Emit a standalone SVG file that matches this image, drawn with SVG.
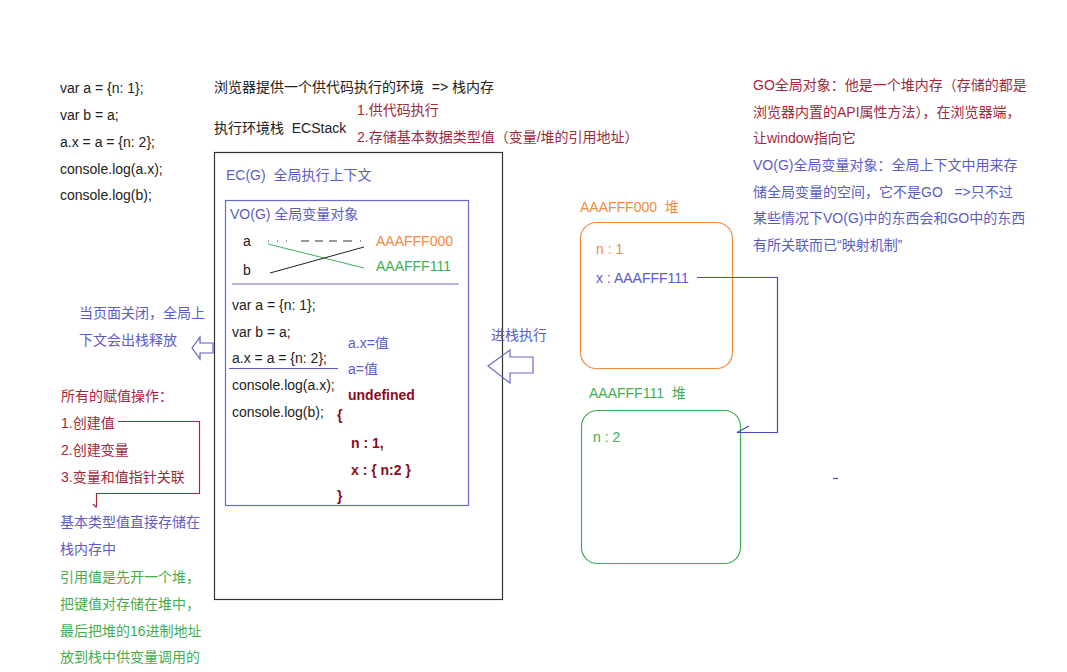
<svg xmlns="http://www.w3.org/2000/svg" width="1067" height="672" viewBox="0 0 1067 672">
<style>
text{font-family:"Liberation Sans","Noto Sans CJK SC",sans-serif;font-size:14px;white-space:pre}
.k{fill:#222}
.b{fill:#5c5cc8}
.r{fill:#a3283c}
.br{fill:#8a0b22;font-weight:bold}
.o{fill:#f28a3c}
.g{fill:#3fae52}
.bs{fill:none;stroke:#6a6ad0;stroke-width:1.2}
</style>
<rect width="1067" height="672" fill="#fff"/>
<g id="code-left" class="k">
<text x="60" y="93">var a = {n: 1};</text>
<text x="60" y="120">var b = a;</text>
<text x="60" y="147">a.x = a = {n: 2};</text>
<text x="60" y="174">console.log(a.x);</text>
<text x="60" y="200">console.log(b);</text>
</g>
<g id="title">
<text x="214" y="92" class="k">浏览器提供一个供代码执行的环境  =&gt; 栈内存</text>
<text x="214" y="133" class="k">执行环境栈  ECStack</text>
<text x="357" y="115" class="r">1.供代码执行</text>
<text x="357" y="142" class="r">2.存储基本数据类型值（变量/堆的引用地址）</text>
</g>
<g id="go-note">
<text x="753" y="90" class="r">GO全局对象：他是一个堆内存（存储的都是</text>
<text x="753" y="117" class="r">浏览器内置的API属性方法），在浏览器端，</text>
<text x="753" y="143" class="r">让window指向它</text>
<text x="753" y="170" class="b">VO(G)全局变量对象：全局上下文中用来存</text>
<text x="753" y="197" class="b">储全局变量的空间，它不是GO   =&gt;只不过</text>
<text x="753" y="223" class="b">某些情况下VO(G)中的东西会和GO中的东西</text>
<text x="753" y="250" class="b">有所关联而已“映射机制”</text>
</g>
<g id="ecstack">
<rect x="214.5" y="152.5" width="288" height="447" fill="none" stroke="#333" stroke-width="1.2"/>
<text x="226" y="180" class="b">EC(G)  全局执行上下文</text>
</g>
<g id="vo">
<rect x="225.5" y="200.5" width="243" height="305" class="bs"/>
<text x="230" y="219" class="b">VO(G) 全局变量对象</text>
<text x="243" y="246" class="k">a</text>
<text x="243" y="275" class="k">b</text>
<line x1="268" y1="241" x2="365" y2="241" stroke="#333" stroke-dasharray="1,8,1,8,1,14,8,6,8,6,8,6,8,0"/>
<line x1="268" y1="244" x2="364" y2="268" stroke="#3fae52"/>
<line x1="270" y1="273" x2="364" y2="247" stroke="#222"/>
<text x="376" y="246" class="o">AAAFFF000</text>
<text x="376" y="271" class="g">AAAFFF111</text>
<line x1="232" y1="284" x2="459" y2="284" stroke="#6a6ad0" stroke-width="1.2"/>
<text x="232" y="310" class="k">var a = {n: 1};</text>
<text x="232" y="337" class="k">var b = a;</text>
<text x="232" y="363" class="k">a.x = a = {n: 2};</text>
<line x1="229" y1="368.5" x2="338" y2="368.5" stroke="#5c5cc8" stroke-width="1.2"/>
<text x="232" y="390" class="k">console.log(a.x);</text>
<text x="232" y="417" class="k">console.log(b);</text>
<text x="348" y="348" class="b">a.x=值</text>
<text x="348" y="374" class="b">a=值</text>
<text x="348" y="400" class="br">undefined</text>
<text x="337" y="420" class="br">{</text>
<text x="351" y="448" class="br">n : 1,</text>
<text x="351" y="475" class="br">x : { n:2 }</text>
<text x="337" y="501" class="br">}</text>
</g>
<g id="close-note">
<text x="79" y="318" class="b">当页面关闭，全局上</text>
<text x="79" y="345" class="b">下文会出栈释放</text>
</g>
<g id="assign-note">
<text x="61" y="401" class="r">所有的赋值操作：</text>
<text x="61" y="428" class="r">1.创建值</text>
<text x="61" y="455" class="r">2.创建变量</text>
<text x="61" y="482" class="r">3.变量和值指针关联</text>
</g>
<g id="store-note">
<text x="60" y="527" class="b">基本类型值直接存储在</text>
<text x="60" y="554" class="b">栈内存中</text>
<text x="60" y="582" class="g">引用值是先开一个堆，</text>
<text x="60" y="609" class="g">把键值对存储在堆中，</text>
<text x="60" y="636" class="g">最后把堆的16进制地址</text>
<text x="60" y="662" class="g">放到栈中供变量调用的</text>
</g>
<g id="push-label">
<text x="491" y="340" class="b">进栈执行</text>
</g>
<g id="heap-000">
<text x="580" y="212" class="o">AAAFFF000  堆</text>
<rect x="580.5" y="222.5" width="152" height="146" rx="16" fill="none" stroke="#f28a3c" stroke-width="1.2"/>
<text x="596" y="254" class="o">n : 1</text>
<text x="596" y="283" class="b">x : AAAFFF111</text>
</g>
<g id="heap-111">
<text x="589" y="398" class="g">AAAFFF111  堆</text>
<rect x="581.5" y="410.5" width="159" height="153" rx="16" fill="none" stroke="#3fae52" stroke-width="1.2"/>
<text x="593" y="442" class="g">n : 2</text>
</g>
<g id="connectors" fill="none" stroke-width="1.2">
<path d="M192,348 L200,337 L200,343 L213,343 L213,353 L200,353 L200,359 Z" stroke="#5c5cc8"/>
<path d="M488,366 L510,350 L510,357 L533,357 L533,373 L510,373 L510,383 Z" stroke="#6a6ad0"/>
<path d="M118,421.5 H199.5 V493.5 H96.5 V507" stroke="#a3283c"/>
<path d="M93,504 L96.5,507.5" stroke="#a3283c"/>
<path d="M697,277.5 H777.5 V432.5 H737" stroke="#4a4ac0"/>
<path d="M737,432.5 L749,426" stroke="#4a4ac0"/>
<line x1="833" y1="478.5" x2="838" y2="478.5" stroke="#4a4ac0"/>
</g>
</svg>
